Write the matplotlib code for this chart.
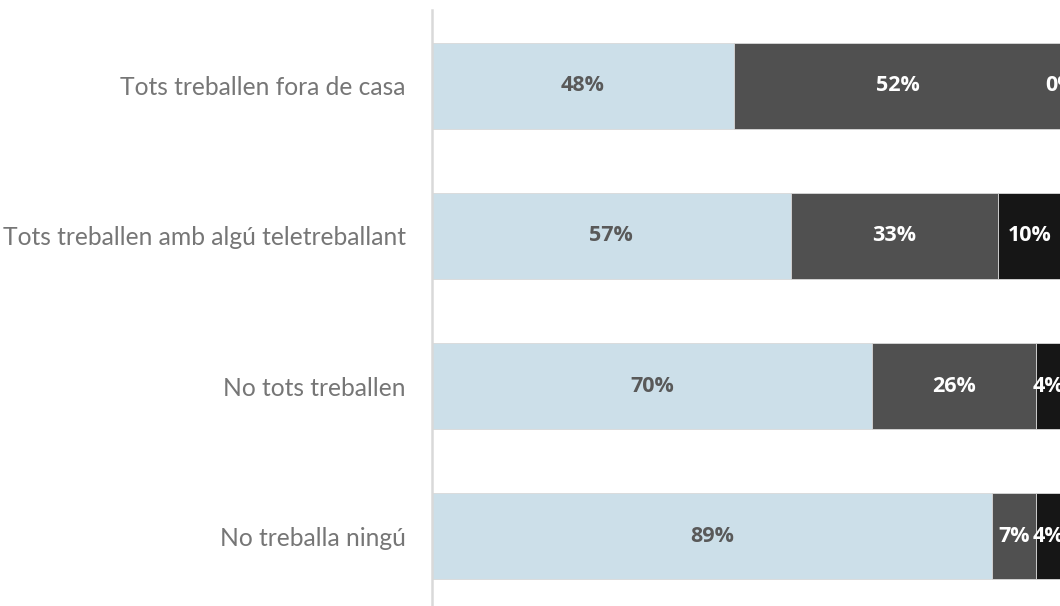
import numpy as np
import matplotlib.pyplot as plt

# categories top to bottom
categories = ['Tots treballen fora de casa',
              'Tots treballen amb algú teletreballant',
              'No tots treballen',
              'No treballa ningú']
part1 = [48, 57, 70, 89]
part2 = [52, 33, 26, 7]
part3 = [0, 10, 4, 4]

colors = ['#CCDFE9', '#505050', '#161616']
label_colors = ['#595959', 'white', 'white']

plt.rcParams['font.family'] = ['Lato', 'DejaVu Sans']

fig = plt.figure(figsize=(10.6, 6.06), dpi=100)
ax = fig.add_axes([432/1060, 0.0, 629/1060, 596/606])

y = np.arange(len(categories))
left = np.zeros(len(categories))
for vals, col, lcol in zip([part1, part2, part3], colors, label_colors):
    vals = np.array(vals, dtype=float)
    ax.barh(y, vals, left=left, height=0.573, color=col,
            edgecolor='#D9D9D9', linewidth=0.6)
    for yi, l, v in zip(y, left, vals):
        ax.text(l + v / 2, yi, '%d%%' % v, ha='center', va='center',
                color=lcol, fontsize=15.5, fontweight='bold',
                family=['Open Sans', 'DejaVu Sans'], clip_on=False)
    left = left + vals

ax.set_xlim(0, 100)
ax.set_ylim(3.463, -0.503)
ax.set_yticks(y)
ax.set_yticklabels(categories, fontsize=17.7, color='#767676')
ax.tick_params(axis='y', length=0, pad=19)
ax.set_xticks([])
for s in ['top', 'right', 'bottom']:
    ax.spines[s].set_visible(False)
ax.spines['left'].set_color('#D9D9D9')
ax.spines['left'].set_linewidth(1.8)

fig.savefig('out.png', dpi=100)
